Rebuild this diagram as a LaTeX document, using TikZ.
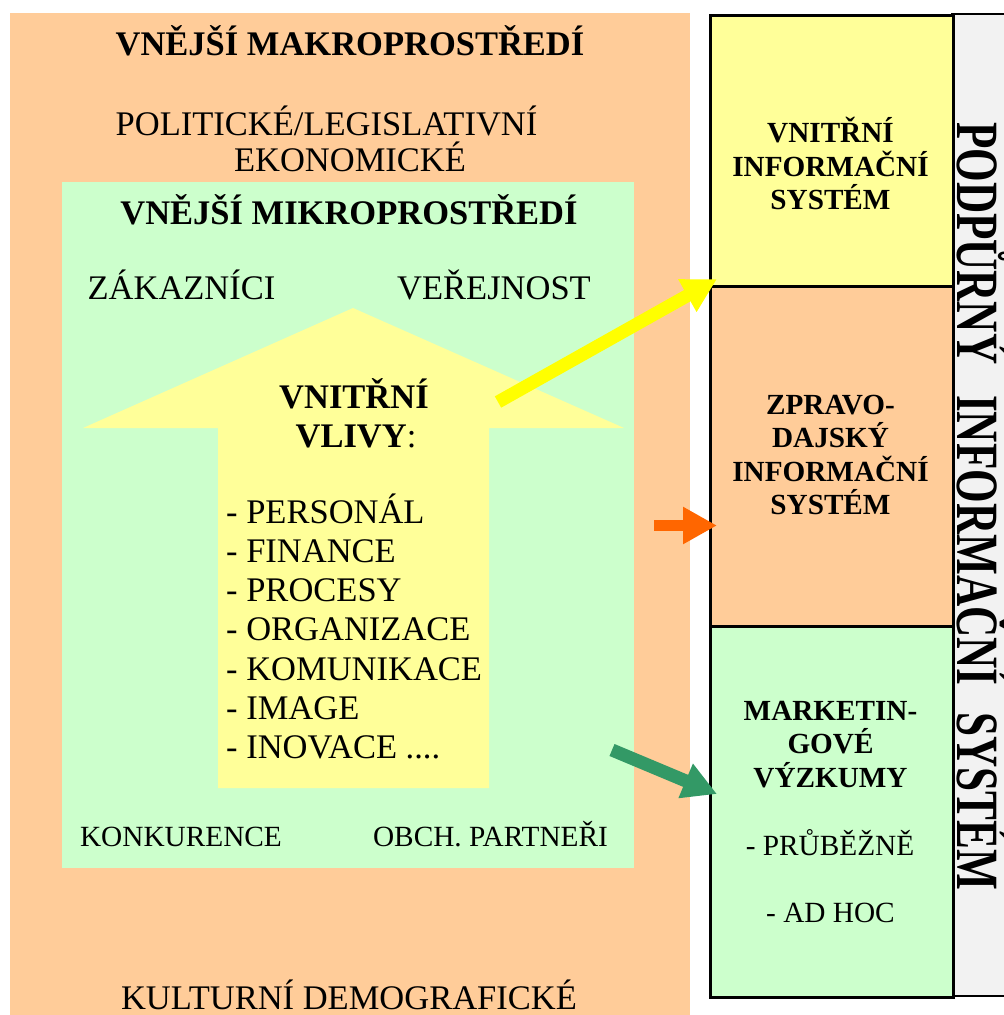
\documentclass[tikz,border=0pt]{standalone}
\usepackage{fontspec}
\setmainfont{Liberation Serif}
\newfontfamily\vertfont{Liberation Serif Bold}[FakeStretch=0.72]
\usepackage{graphicx}
\usepackage{tikz}
\usetikzlibrary{arrows.meta}
\definecolor{mkorange}{RGB}{255,204,153}
\definecolor{mkgreen}{RGB}{204,255,204}
\definecolor{mkyellow}{RGB}{255,255,153}
\definecolor{mkgray}{RGB}{242,242,242}
\definecolor{mkyellowarrow}{RGB}{255,255,0}
\definecolor{mkorangearrow}{RGB}{255,102,0}
\definecolor{mkgreenarrow}{RGB}{51,153,102}

\begin{document}
\begin{tikzpicture}[x=1pt, y=-1pt,
    bigtext/.style={anchor=base, inner sep=0pt, font=\fontsize{34.5}{39.3}\selectfont},
    bigbold/.style={bigtext, font=\fontsize{34.5}{39.3}\selectfont\bfseries},
    smalltext/.style={anchor=base, inner sep=0pt, font=\fontsize{29.3}{33.6}\selectfont},
    boxbold/.style={smalltext, font=\fontsize{29.2}{33.6}\selectfont\bfseries},
    listitem/.style={bigtext, anchor=base west},
    sysbox/.style={draw=black, line width=2.5pt, anchor=north west, inner sep=0pt,
                   minimum width=243pt},
    flow/.style={line width=13pt, -{Triangle[length=34pt, width=35pt]}}]
    \useasboundingbox (0,0) rectangle (1004,1015);
    \clip (0,0) rectangle (1004,1015);
    \fill[white] (0,0) rectangle (1004,1015);

    % surroundings
    \fill[mkorange] (10,13) rectangle (690,1015);
    \fill[mkgreen] (62,182) rectangle (634,868);
    \fill[mkyellow] (353,308) -- (624,428) -- (489,428) -- (489,788)
        -- (218,788) -- (218,428) -- (83,428) -- cycle;

    \node[bigbold] (makro) at (350,55) {VNĚJŠÍ MAKROPROSTŘEDÍ};
    \node[bigtext] (polit) at (326.5,135) {POLITICKÉ/LEGISLATIVNÍ};
    \node[bigtext] (ekon) at (350,171) {EKONOMICKÉ};
    \node[bigtext] (kult) at (349,1009) {KULTURNÍ DEMOGRAFICKÉ};

    \node[bigbold] (mikro) at (349,224) {VNĚJŠÍ MIKROPROSTŘEDÍ};
    \node[bigtext] (zak) at (181.5,299) {ZÁKAZNÍCI};
    \node[bigtext] (ver) at (494,299) {VEŘEJNOST};
    \node[smalltext] (konk) at (181,846) {KONKURENCE};
    \node[smalltext] (obch) at (490.5,846) {OBCH. PARTNEŘI};

    % internal influences
    \node[bigbold] (vnitr) at (354,408) {VNITŘNÍ};
    \node[bigtext] (vlivy) at (356,447.3) {\textbf{VLIVY}:};
    \node[listitem] (pers) at (226,523) {- PERSONÁL};
    \node[listitem] (fin) at (226,562.3) {- FINANCE};
    \node[listitem] (proc) at (226,601.6) {- PROCESY};
    \node[listitem] (org) at (226,640.9) {- ORGANIZACE};
    \node[listitem] (kom) at (226,680.2) {- KOMUNIKACE};
    \node[listitem] (img) at (226,719.5) {- IMAGE};
    \node[listitem] (inov) at (226,758.8) {- INOVACE ....};

    % information system
    \fill[mkgray, draw=black, line width=2.5pt] (952,14) rectangle (1015,996);
    \node[sysbox, fill=mkyellow, minimum height=271pt] (vnis) at (709,14) {};
    \node[sysbox, fill=mkorange, minimum height=340pt] (zpis) at (709,285) {};
    \node[sysbox, fill=mkgreen, minimum height=371pt] (mvyz) at (709,625) {};

    \node[boxbold] (vnis1) at (830.5,142.7) {VNITŘNÍ};
    \node[boxbold] (vnis2) at (830.5,176.2) {INFORMAČNÍ};
    \node[boxbold] (vnis3) at (830.5,209.7) {SYSTÉM};

    \node[boxbold] (zpis1) at (830.5,414) {ZPRAVO-};
    \node[boxbold] (zpis2) at (830.5,447.5) {DAJSKÝ};
    \node[boxbold] (zpis3) at (830.5,481) {INFORMAČNÍ};
    \node[boxbold] (zpis4) at (830.5,514.5) {SYSTÉM};

    \node[boxbold] (mvyz1) at (830.5,720) {MARKETIN-};
    \node[boxbold] (mvyz2) at (830.5,753.5) {GOVÉ};
    \node[boxbold] (mvyz3) at (830.5,787) {VÝZKUMY};
    \node[smalltext] (prub) at (830,855) {- PRŮBĚŽNĚ};
    \node[smalltext] (adhoc) at (830.5,922) {- AD HOC};

    \node[rotate=-90, anchor=base, inner sep=0pt,
          font=\fontsize{60}{60}\vertfont] (podp) at (957,506)
          {PODPŮRNÝ\hspace{20pt} INFORMAČNÍ\hspace{16pt} SYSTÉM};

    % flows into the system
    \coordinate (yfrom) at (498,402);
    \coordinate (yto) at (717,279);
    \coordinate (ofrom) at (654,525.5);
    \coordinate (oto) at (717,525.5);
    \coordinate (gfrom) at (612,750);
    \coordinate (gto) at (717,794);
    \draw[flow, mkyellowarrow] (yfrom) -- (yto);
    \draw[flow, line width=11pt, mkorangearrow] (ofrom) -- (oto);
    \draw[flow, mkgreenarrow] (gfrom) -- (gto);
\end{tikzpicture}
\end{document}
